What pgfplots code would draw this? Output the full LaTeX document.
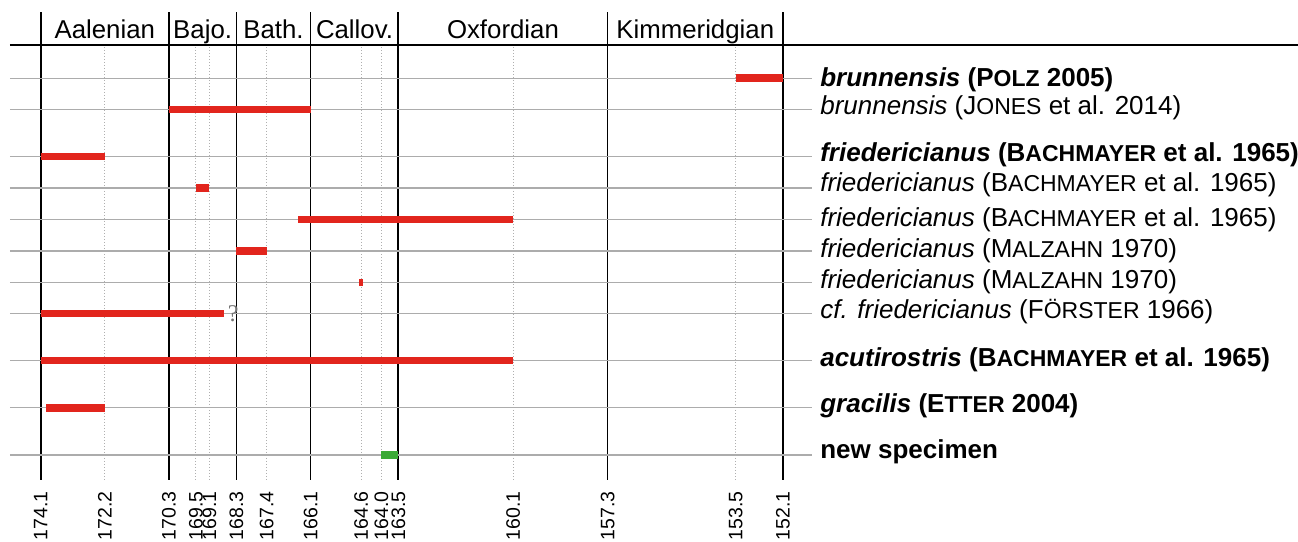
\documentclass[border=0pt]{standalone}
\usepackage{fontspec}
\setmainfont{Liberation Sans}
\newfontfamily\serifq{Liberation Serif}
\usepackage{pgfplots}
\pgfplotsset{compat=1.18}
\definecolor{barred}{RGB}{226,37,29}
\definecolor{bargreen}{RGB}{58,170,53}
\definecolor{rowgray}{RGB}{172,172,172}
\definecolor{dotgray}{RGB}{175,175,175}
\definecolor{qgray}{RGB}{115,115,115}
\newcommand\smc[1]{{\fontsize{23bp}{23bp}\selectfont #1}}
\newcommand\lab{\fontsize{26bp}{30bp}\selectfont}
\newcommand\stg{\fontsize{25.8bp}{30bp}\selectfont}
\begin{document}
\begin{tikzpicture}
\begin{axis}[name=ax, scale only axis, width=742.3bp, height=468bp,
 x dir=reverse, y dir=reverse,
 xmin=152.1, xmax=174.1, ymin=-2.11, ymax=12.80,
 clip=false,
 axis line style={draw=none},
 ytick=\empty,
 xtick={174.1,170.3,168.3,166.1,163.5,157.3,152.1},
 extra x ticks={172.2,169.5,169.1,167.4,164.6,164.0,160.1,153.5},
 extra x tick style={grid=none},
 xmajorgrids, major grid style={black, line width=1.7bp},
 major tick length=0pt,
 xticklabel={\fontsize{19.5bp}{21bp}\selectfont\pgfmathprintnumber[fixed,fixed zerofill,precision=1,assume math mode=true]{\tick}},
 xticklabel style={rotate=90, anchor=east, xshift=-8bp},
]
% dotted reference lines
\pgfplotsinvokeforeach{172.2,169.5,169.1,167.4,164.6,164.0,160.1,153.5}{
 \draw[dotgray, line width=1bp, dash pattern=on 1.5bp off 1.5bp] (axis cs:#1,-1.0) -- (axis cs:#1,12.8);
}
% row lines
\pgfplotsinvokeforeach{0,1,2.5,3.5,4.5,5.5,6.5,7.5,9,10.5,12}{
 \draw[rowgray, line width=1.3bp] (axis cs:175.01,#1) -- (axis cs:151.25,#1);
}
% top line
\draw[black, line width=1.5bp] (axis cs:175.01,-1.06) -- (axis cs:136.0,-1.06);
% stage names
\node[anchor=base, inner sep=0pt, font=\stg] at (axis cs:172.2,-1.25) {Aalenian};
\node[anchor=base, inner sep=0pt, font=\stg] at (axis cs:169.3,-1.25) {Bajo.};
\node[anchor=base, inner sep=0pt, font=\stg] at (axis cs:167.2,-1.25) {Bath.};
\node[anchor=base, inner sep=0pt, font=\stg] at (axis cs:164.8,-1.25) {Callov.};
\node[anchor=base, inner sep=0pt, font=\stg] at (axis cs:160.4,-1.25) {Oxfordian};
\node[anchor=base, inner sep=0pt, font=\stg] at (axis cs:154.7,-1.25) {Kimmeridgian};
% ranges
\addplot[barred, line width=7.5bp] coordinates {(153.5,0) (152.1,0)};
\addplot[barred, line width=7.5bp] coordinates {(170.3,1) (166.1,1)};
\addplot[barred, line width=7.5bp] coordinates {(174.1,2.5) (172.2,2.5)};
\addplot[barred, line width=7.5bp] coordinates {(169.5,3.5) (169.1,3.5)};
\addplot[barred, line width=7.5bp] coordinates {(166.47,4.5) (160.1,4.5)};
\addplot[barred, line width=7.5bp] coordinates {(168.3,5.5) (167.4,5.5)};
\addplot[barred, line width=7.5bp] coordinates {(164.66,6.5) (164.54,6.5)};
\addplot[barred, line width=7.5bp] coordinates {(174.1,7.5) (168.66,7.5)};
\addplot[barred, line width=7.5bp] coordinates {(174.1,9) (160.1,9)};
\addplot[barred, line width=7.5bp] coordinates {(173.94,10.5) (172.2,10.5)};
\addplot[bargreen, line width=7.5bp] coordinates {(164.0,12) (163.5,12)};
\node[anchor=west, inner sep=0pt, text=qgray, font=\serifq\fontsize{24bp}{24bp}\selectfont] at (axis cs:168.56,7.5) {?};
% labels
\node[anchor=base west, inner sep=0pt, font=\lab] at (axis cs:151.0,0.27) {\textbf{\textit{brunnensis} (P\smc{OLZ} 2005)}};
\node[anchor=base west, inner sep=0pt, font=\lab] at (axis cs:151.0,1.17) {\textit{brunnensis} (J\smc{ONES} et al. 2014)};
\node[anchor=base west, inner sep=0pt, font=\lab] at (axis cs:151.0,2.66) {\textbf{\textit{friedericianus} (B\smc{ACHMAYER} et al. 1965)}};
\node[anchor=base west, inner sep=0pt, font=\lab] at (axis cs:151.0,3.62) {\textit{friedericianus} (B\smc{ACHMAYER} et al. 1965)};
\node[anchor=base west, inner sep=0pt, font=\lab] at (axis cs:151.0,4.73) {\textit{friedericianus} (B\smc{ACHMAYER} et al. 1965)};
\node[anchor=base west, inner sep=0pt, font=\lab] at (axis cs:151.0,5.71) {\textit{friedericianus} (M\smc{ALZAHN} 1970)};
\node[anchor=base west, inner sep=0pt, font=\lab] at (axis cs:151.0,6.70) {\textit{friedericianus} (M\smc{ALZAHN} 1970)};
\node[anchor=base west, inner sep=0pt, font=\lab] at (axis cs:151.0,7.65) {\textit{cf. friedericianus} (F\smc{ÖRSTER} 1966)};
\node[anchor=base west, inner sep=0pt, font=\lab] at (axis cs:151.0,9.17) {\textbf{\textit{acutirostris} (B\smc{ACHMAYER} et al. 1965)}};
\node[anchor=base west, inner sep=0pt, font=\lab] at (axis cs:151.0,10.66) {\textbf{\textit{gracilis} (E\smc{TTER} 2004)}};
\node[anchor=base west, inner sep=0pt, font=\lab] at (axis cs:151.0,12.11) {\textbf{new specimen}};
\end{axis}
\pgfresetboundingbox
\path[use as bounding box] ([xshift=-40.7bp,yshift=-62bp]ax.south west) rectangle ([xshift=1257.3bp,yshift=12bp]ax.north west);
\end{tikzpicture}
\end{document}
